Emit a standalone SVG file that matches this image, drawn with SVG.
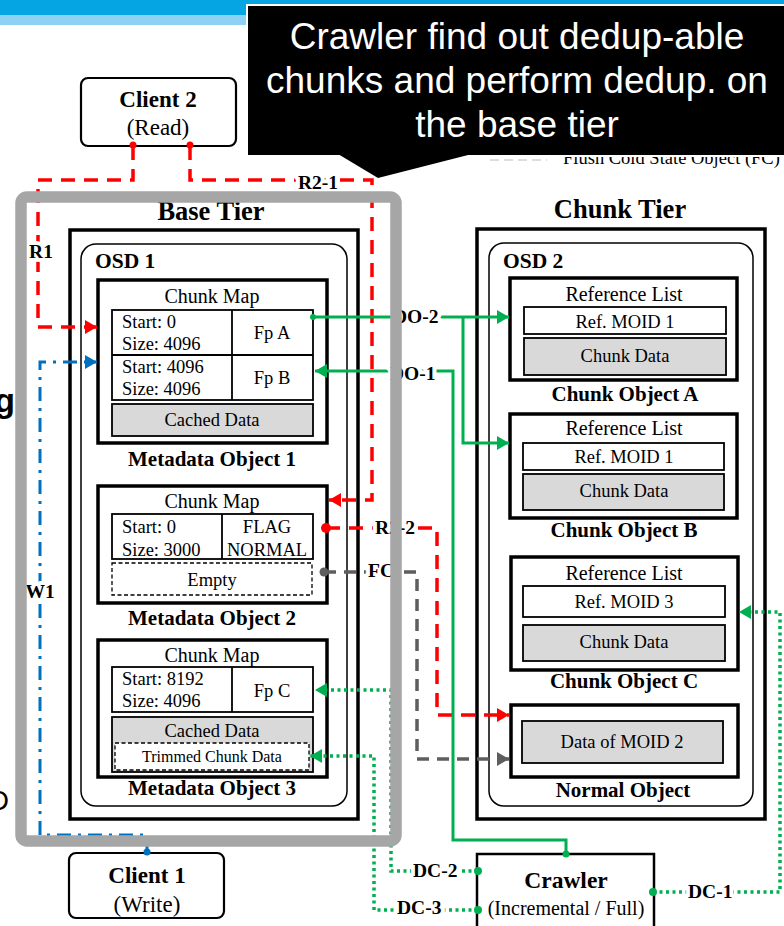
<svg xmlns="http://www.w3.org/2000/svg" width="784" height="926" viewBox="0 0 784 926">
  <defs>
    <style>
      .t { font-family: "Liberation Serif", "Times New Roman", serif; fill: #000; }
      .b { font-weight: bold; }
      .m { text-anchor: middle; }
      .s18 { font-size: 18.5px; }
      .s20 { font-size: 20px; }
      .s21 { font-size: 21px; }
      .frame { fill: none; stroke: #000; stroke-width: 3.5; }
      .obj { fill: #fff; stroke: #000; stroke-width: 3.5; }
      .osd { fill: #fff; stroke: #000; stroke-width: 1.5; }
      .cell { fill: #fff; stroke: #000; stroke-width: 1.8; }
      .shade { fill: #D9D9D9; stroke: #000; stroke-width: 1.8; }
      .dash { stroke-dasharray: 4 2.5; stroke-width: 1.3; }
      .client { fill: #fff; stroke: #000; stroke-width: 2.2; }
      .lbl { font-family: "Liberation Serif", "Times New Roman", serif; font-weight: bold; font-size: 19.5px; fill: #000; stroke: #fff; stroke-width: 8; stroke-linejoin: round; paint-order: stroke; }
      .red { fill: none; stroke: #FF0000; stroke-width: 3.5; stroke-dasharray: 14 9; }
      .blue { fill: none; stroke: #0070C0; stroke-width: 3; stroke-dasharray: 14 7 3 7; }
      .grn { fill: none; stroke: #00B050; stroke-width: 3; }
      .grd { fill: none; stroke: #00B050; stroke-width: 3.5; stroke-dasharray: 3 3.5; }
      .gry { fill: none; stroke: #5E5E5E; stroke-width: 3.5; stroke-dasharray: 12 8; }
    </style>
    <marker id="ah-red" viewBox="0 0 12 14" refX="12" refY="7" markerWidth="12" markerHeight="14" markerUnits="userSpaceOnUse" orient="auto">
      <path d="M0,0 L12,7 L0,14 z" fill="#FF0000"/>
    </marker>
    <marker id="ah-blue" viewBox="0 0 12 14" refX="12" refY="7" markerWidth="12" markerHeight="14" markerUnits="userSpaceOnUse" orient="auto">
      <path d="M0,0 L12,7 L0,14 z" fill="#0070C0"/>
    </marker>
    <marker id="ah-green" viewBox="0 0 12 14" refX="12" refY="7" markerWidth="12" markerHeight="14" markerUnits="userSpaceOnUse" orient="auto">
      <path d="M0,0 L12,7 L0,14 z" fill="#00B050"/>
    </marker>
    <marker id="ah-gray" viewBox="0 0 12 14" refX="12" refY="7" markerWidth="12" markerHeight="14" markerUnits="userSpaceOnUse" orient="auto">
      <path d="M0,0 L12,7 L0,14 z" fill="#5E5E5E"/>
    </marker>
  </defs>

  <rect x="0" y="0" width="784" height="926" fill="#fff"/>

  <!-- slide header band -->
  <rect x="0" y="0" width="784" height="15" fill="#05A5E3"/>
  <rect x="0" y="15" width="784" height="10" fill="#8DD2F4"/>

  <!-- slide body text peeking in at the left margin -->
  <text x="15" y="412" text-anchor="end" font-family="Liberation Sans, Arial, sans-serif" font-weight="bold" font-size="34">g</text>
  <text x="9" y="810" text-anchor="end" font-family="Liberation Sans, Arial, sans-serif" font-size="28">D</text>

  <!-- legend entry partly hidden under the callout -->
  <g id="legend-fc">
    <line x1="490" y1="160" x2="547" y2="160" stroke="#BBBBBB" stroke-width="1.2" stroke-dasharray="9 5"/>
    <text class="t" x="563" y="164" font-size="18.5">Flush Cold State Object (FC)</text>
  </g>

  <!-- Client 2 -->
  <g id="client2">
    <rect class="client" x="81" y="78" width="155" height="68" rx="7"/>
    <text class="t b m" x="158" y="107" font-size="23">Client 2</text>
    <text class="t m" x="158" y="135" font-size="23">(Read)</text>
  </g>

  <!-- Base tier -->
  <g id="base-tier">
    <rect class="frame" x="70" y="230" width="288" height="589"/>
    <text class="t b m" x="211" y="220" font-size="26.5">Base Tier</text>
  </g>
  <g id="osd1">
    <rect class="osd" x="81" y="244" width="266" height="562" rx="15"/>
    <text class="t b" x="95" y="268" font-size="21.5">OSD 1</text>
  </g>

  <g id="metadata-object-1">
    <rect class="obj" x="98" y="280" width="229" height="163"/>
    <text class="t m s20" x="212" y="303">Chunk Map</text>
    <rect class="cell" x="112" y="310" width="201" height="90"/>
    <line x1="232" y1="310" x2="232" y2="400" stroke="#000" stroke-width="1.8"/>
    <line x1="112" y1="355" x2="313" y2="355" stroke="#000" stroke-width="1.8"/>
    <text class="t s18" x="122" y="328">Start: 0</text>
    <text class="t s18" x="122" y="350">Size: 4096</text>
    <text class="t s18" x="122" y="373">Start: 4096</text>
    <text class="t s18" x="122" y="395">Size: 4096</text>
    <text class="t m s18" x="272" y="339">Fp A</text>
    <text class="t m s18" x="272" y="384">Fp B</text>
    <rect class="shade" x="112" y="404" width="201" height="32"/>
    <text class="t m s18" x="212" y="426">Cached Data</text>
    <text class="t b m s21" x="212" y="466">Metadata Object 1</text>
  </g>

  <g id="metadata-object-2">
    <rect class="obj" x="98" y="486" width="229" height="117"/>
    <text class="t m s20" x="212" y="508">Chunk Map</text>
    <rect class="cell" x="112" y="514" width="201" height="45"/>
    <line x1="222" y1="514" x2="222" y2="559" stroke="#000" stroke-width="1.8"/>
    <text class="t s18" x="122" y="533">Start: 0</text>
    <text class="t s18" x="122" y="556">Size: 3000</text>
    <text class="t m s18" x="267" y="533">FLAG</text>
    <text class="t m s18" x="267" y="556">NORMAL</text>
    <rect class="cell dash" x="112" y="563" width="200" height="32"/>
    <text class="t m s18" x="212" y="586">Empty</text>
    <text class="t b m s21" x="212" y="625">Metadata Object 2</text>
  </g>

  <g id="metadata-object-3">
    <rect class="obj" x="98" y="640" width="229" height="137"/>
    <text class="t m s20" x="212" y="662">Chunk Map</text>
    <rect class="cell" x="112" y="667" width="201" height="45"/>
    <line x1="232" y1="667" x2="232" y2="712" stroke="#000" stroke-width="1.8"/>
    <text class="t s18" x="122" y="685">Start: 8192</text>
    <text class="t s18" x="122" y="707">Size: 4096</text>
    <text class="t m s18" x="272" y="697">Fp C</text>
    <rect class="shade" x="112" y="717" width="201" height="55"/>
    <text class="t m s18" x="212" y="737">Cached Data</text>
    <rect class="cell dash" x="115" y="743" width="194" height="27"/>
    <text class="t m" x="212" y="762" font-size="16">Trimmed Chunk Data</text>
    <text class="t b m s21" x="212" y="795">Metadata Object 3</text>
  </g>

  <!-- Chunk tier -->
  <g id="chunk-tier">
    <rect class="frame" x="477" y="229" width="288" height="590"/>
    <text class="t b m" x="620" y="218" font-size="26.5">Chunk Tier</text>
  </g>
  <g id="osd2">
    <rect class="osd" x="489" y="243" width="264" height="563" rx="15"/>
    <text class="t b" x="503" y="268" font-size="21.5">OSD 2</text>
  </g>

  <g id="chunk-object-a">
    <rect class="obj" x="510" y="278" width="227" height="102"/>
    <text class="t m s20" x="624" y="301">Reference List</text>
    <rect class="cell" x="524" y="307" width="202" height="27"/>
    <text class="t m s18" x="625" y="328">Ref. MOID 1</text>
    <rect class="shade" x="524" y="338" width="202" height="37"/>
    <text class="t m s18" x="625" y="362">Chunk Data</text>
    <text class="t b m s21" x="625" y="401">Chunk Object A</text>
  </g>

  <g id="chunk-object-b">
    <rect class="obj" x="510" y="414" width="227" height="104"/>
    <text class="t m s20" x="624" y="435">Reference List</text>
    <rect class="cell" x="523" y="443" width="201" height="27"/>
    <text class="t m s18" x="624" y="463">Ref. MOID 1</text>
    <rect class="shade" x="523" y="474" width="201" height="36"/>
    <text class="t m s18" x="624" y="497">Chunk Data</text>
    <text class="t b m s21" x="624" y="537">Chunk Object B</text>
  </g>

  <g id="chunk-object-c">
    <rect class="obj" x="511" y="557" width="227" height="113"/>
    <text class="t m s20" x="624" y="580">Reference List</text>
    <rect class="cell" x="523" y="586" width="202" height="31"/>
    <text class="t m s18" x="624" y="608">Ref. MOID 3</text>
    <rect class="shade" x="523" y="625" width="202" height="36"/>
    <text class="t m s18" x="624" y="648">Chunk Data</text>
    <text class="t b m s21" x="624" y="688">Chunk Object C</text>
  </g>

  <g id="normal-object">
    <rect class="obj" x="511" y="705" width="227" height="72"/>
    <rect class="shade" x="522" y="721" width="201" height="42"/>
    <text class="t m s18" x="622" y="748">Data of MOID 2</text>
    <text class="t b m s21" x="623" y="797">Normal Object</text>
  </g>

  <!-- Client 1 -->
  <g id="client1">
    <rect class="client" x="69" y="853" width="155" height="65" rx="7"/>
    <text class="t b m" x="147" y="883" font-size="23">Client 1</text>
    <text class="t m" x="147" y="912" font-size="23">(Write)</text>
  </g>

  <!-- Crawler -->
  <g id="crawler">
    <rect fill="#fff" stroke="#000" stroke-width="2.5" x="477" y="854" width="177" height="80"/>
    <text class="t b m" x="566" y="888" font-size="23.5">Crawler</text>
    <text class="t m s20" x="566" y="915">(Incremental / Full)</text>
  </g>

  <!-- connectors -->
  <g id="connectors">
    <!-- read path R1 -->
    <path class="red" d="M133,146 V180 H38 V327 H97" marker-end="url(#ah-red)"/>
    <circle cx="133" cy="145" r="3.5" fill="#FF0000"/>
    <!-- read path R2-1 -->
    <path class="red" d="M190,146 V180 H372 V500 H329" marker-end="url(#ah-red)"/>
    <circle cx="190" cy="145" r="3.5" fill="#FF0000"/>
    <!-- read path R2-2 -->
    <path class="red" d="M326,528 H437 V715 H509" marker-end="url(#ah-red)"/>
    <circle cx="326" cy="528" r="5" fill="#FF0000"/>
    <!-- flush cold object FC -->
    <path class="gry" d="M324,572 H417 V759 H509" marker-end="url(#ah-gray)"/>
    <circle cx="324" cy="572" r="4.5" fill="#5E5E5E"/>
    <!-- write path W1 -->
    <path class="blue" d="M147,852 V835 H40 V362 H97" marker-end="url(#ah-blue)"/>
    <circle cx="147" cy="852" r="3.5" fill="#0070C0"/>
    <!-- dedup DO-2 -->
    <path class="grn" d="M313,317 H509" marker-end="url(#ah-green)"/>
    <path class="grn" d="M463,317 V443 H509" marker-end="url(#ah-green)"/>
    <circle cx="313" cy="317" r="3" fill="#00B050"/>
    <!-- dedup DO-1 -->
    <path class="grn" d="M566,854 V840 H453 V371 H315" marker-end="url(#ah-green)"/>
    <circle cx="566" cy="854" r="3.5" fill="#00B050"/>
    <!-- crawler DC-1 -->
    <path class="grd" d="M653,892 H780 V612 H739" marker-end="url(#ah-green)"/>
    <circle cx="653" cy="892" r="4" fill="#00B050"/>
    <!-- crawler DC-2 -->
    <path class="grd" d="M478,871 H391 V690 H315" marker-end="url(#ah-green)"/>
    <circle cx="478" cy="871" r="4" fill="#00B050"/>
    <!-- crawler DC-3 -->
    <path class="grd" d="M478,910 H374 V756 H310" marker-end="url(#ah-green)"/>
    <circle cx="478" cy="910" r="4" fill="#00B050"/>

    <!-- connector labels -->
    <text class="lbl" x="41" y="258" text-anchor="middle">R1</text>
    <text class="lbl" x="318" y="189" text-anchor="middle">R2-1</text>
    <text class="lbl" x="375" y="534">R2-2</text>
    <text class="lbl" x="368" y="577">FC</text>
    <text class="lbl" x="393" y="323">DO-2</text>
    <text class="lbl" x="390" y="380">DO-1</text>
    <text class="lbl" x="40" y="598" text-anchor="middle">W1</text>
    <text class="lbl" x="413" y="877">DC-2</text>
    <text class="lbl" x="397" y="914">DC-3</text>
    <text class="lbl" x="688" y="898">DC-1</text>
  </g>

  <!-- highlight frame around the base tier -->
  <rect id="base-tier-highlight" x="21" y="197" width="375" height="644" rx="6" fill="none" stroke="#A6A6A6" stroke-width="11.5"/>

  <!-- callout -->
  <g id="callout">
    <rect x="246" y="4" width="542" height="153" fill="#fff"/>
    <rect x="248" y="6" width="540" height="149" fill="#000"/>
    <polygon points="338,154 378,178 472,154" fill="#000"/>
    <g font-family="Liberation Sans, Arial, sans-serif" font-size="37" fill="#fff" text-anchor="middle">
      <text x="517" y="49">Crawler find out dedup-able</text>
      <text x="517" y="93">chunks and perform dedup. on</text>
      <text x="517" y="137">the base tier</text>
    </g>
  </g>
</svg>
